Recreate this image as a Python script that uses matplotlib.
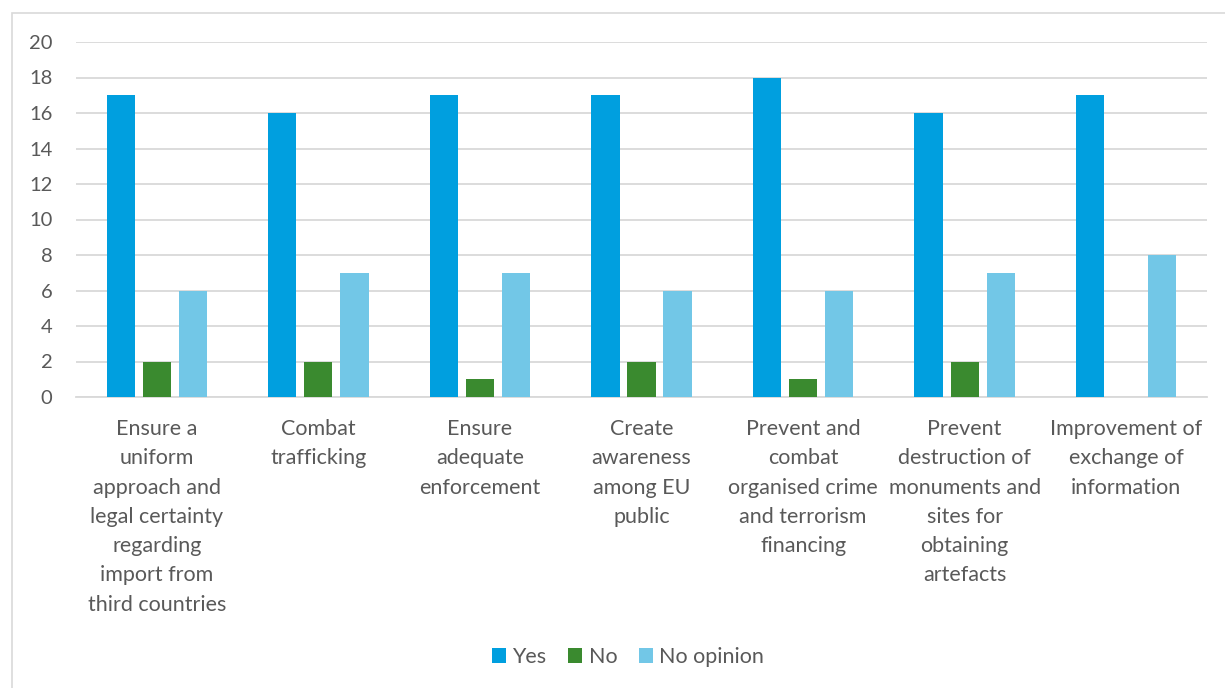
import matplotlib.pyplot as plt
import numpy as np
from matplotlib.patches import Rectangle
from matplotlib.transforms import blended_transform_factory

categories = [
    "Ensure a\nuniform\napproach and\nlegal certainty\nregarding\nimport from\nthird countries",
    "Combat\ntrafficking",
    "Ensure\nadequate\nenforcement",
    "Create\nawareness\namong EU\npublic",
    "Prevent and\ncombat\norganised crime\nand terrorism\nfinancing",
    "Prevent\ndestruction of\nmonuments and\nsites for\nobtaining\nartefacts",
    "Improvement of\nexchange of\ninformation",
]
yes = [17, 16, 17, 17, 18, 16, 17]
no = [2, 2, 1, 2, 1, 2, 0]
no_opinion = [6, 7, 7, 6, 6, 7, 8]

series = [("Yes", yes, "#009FDF"), ("No", no, "#3A8A2F"), ("No opinion", no_opinion, "#72C7E7")]

plt.rcParams['font.family'] = ['Lato', 'DejaVu Sans']
text_color = "#595959"

fig = plt.figure(figsize=(12.25, 6.88), dpi=100)
fig.patches.append(Rectangle((12 / 1225, -0.5), 1.2, 1.5 - 13 / 688, transform=fig.transFigure,
                             fill=False, edgecolor="#D9D9D9", linewidth=1.2))
ax = fig.add_axes([76 / 1225, 1 - 397 / 688, (1207 - 76) / 1225, (397 - 42) / 688])

x = np.arange(len(categories))
step = 0.223
width = 0.175
for i, (name, vals, color) in enumerate(series):
    ax.bar(x + (i - 1) * step, vals, width, color=color, label=name, zorder=3)

ax.set_xlim(-0.5, len(categories) - 0.5)
ax.set_ylim(0, 20)
ax.set_yticks(range(0, 21, 2))
ax.yaxis.grid(True, color="#D9D9D9", linewidth=1.3, zorder=0)
ax.set_axisbelow(True)
for s in ["top", "right", "left"]:
    ax.spines[s].set_visible(False)
ax.spines["bottom"].set_color("#D9D9D9")
ax.spines["bottom"].set_linewidth(1.3)

# category labels drawn as text so the line spacing sticks
ax.set_xticks(x)
ax.set_xticklabels([])
ax.tick_params(axis="x", length=0)
trans = blended_transform_factory(ax.transData, fig.transFigure)
for xi, label in zip(x, categories):
    ax.text(xi, 1 - 419 / 688, label, transform=trans, ha="center", va="top",
            fontsize=15.5, color=text_color, linespacing=1.58)

ax.tick_params(axis="y", length=0, pad=17, labelsize=14.5, labelcolor=text_color)

leg = fig.legend(loc="center", bbox_to_anchor=(628 / 1225, 1 - 657 / 688), ncol=3, frameon=False,
                 fontsize=15.5, handlelength=0.65, handleheight=0.65, handletextpad=0.3,
                 columnspacing=1.0)
for t in leg.get_texts():
    t.set_color(text_color)

fig.savefig("out.png", dpi=100)
